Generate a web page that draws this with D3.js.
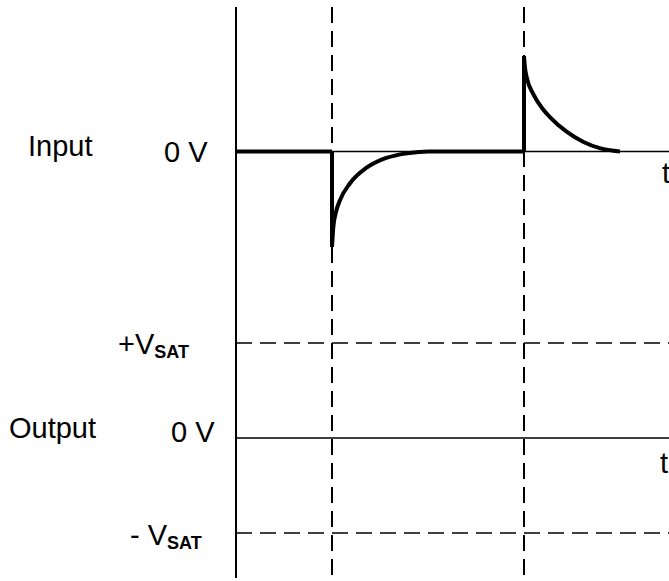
<!DOCTYPE html>
<html>
<head>
<meta charset="utf-8">
<script src="https://cdn.jsdelivr.net/npm/d3@7"></script>
<style>
  html, body { margin: 0; padding: 0; background: #fff; }
  svg { display: block; }
  text { font-family: "Liberation Sans", Arial, sans-serif; fill: #000; }
</style>
</head>
<body>
<svg id="chart" width="669" height="581"></svg>
<script>
// ---- data (time in edge units, voltage normalised to pulse peak) ----
const edgeTimes = [1, 3];                       // input edges (dashed markers)
const flatSegments = [[0, 1], [2, 3]];          // input at 0 V (thick)
const negEdge = [[1, 0], [1, -1]];              // falling step
const negDecay = [[1, -1], [1.014, -0.79], [1.04, -0.64], [1.083, -0.51], [1.19, -0.33], [1.36, -0.17], [1.53, -0.08], [1.71, -0.03], [2, 0]];
const posEdge = [[3, 0], [3, 1]];               // rising step
const posDecay = [[3, 1], [3.01, 0.88], [3.03, 0.77], [3.097, 0.60], [3.2, 0.44], [3.27, 0.36], [3.44, 0.21], [3.62, 0.10], [3.79, 0.035], [4, 0]];
const outputLevels = [1, -1];                   // ±VSAT dashed levels
const inputLabels = ["Input", "0 V"];
const outputLabels = ["Output", "0 V", "+V", "- V", "SAT"];
const axisLabel = "t";

const svg = d3.select("#chart");

const x = d3.scaleLinear().domain([0, 4.5]).range([236, 668]);
const yIn = d3.scaleLinear().domain([-1, 1]).range([247, 56]);
const yOut = d3.scaleLinear().domain([-1, 1]).range([533, 343]);

const dash = "16,8";

// main vertical axis
svg.append("line").attr("x1", x(0)).attr("x2", x(0)).attr("y1", 7).attr("y2", 578)
  .attr("stroke", "#000").attr("stroke-width", 2);

// dashed vertical markers
svg.selectAll(".vmark").data(edgeTimes).join("line")
  .attr("x1", d => x(d)).attr("x2", d => x(d)).attr("y1", 7).attr("y2", 578)
  .attr("stroke", "#000").attr("stroke-width", 2).attr("stroke-dasharray", dash);

// ±VSAT dashed horizontals
svg.selectAll(".hmark").data(outputLevels).join("line")
  .attr("x1", x(0)).attr("x2", 669).attr("y1", d => yOut(d)).attr("y2", d => yOut(d))
  .attr("stroke", "#000").attr("stroke-width", 1.6).attr("stroke-dasharray", dash);

// zero lines (time axes)
svg.append("line").attr("x1", x(0)).attr("x2", 669).attr("y1", yIn(0)).attr("y2", yIn(0))
  .attr("stroke", "#000").attr("stroke-width", 1.6);
svg.append("line").attr("x1", x(0)).attr("x2", 669).attr("y1", yOut(0)).attr("y2", yOut(0))
  .attr("stroke", "#000").attr("stroke-width", 1.6);

// input waveform
const lin = d3.line().x(d => x(d[0])).y(d => yIn(d[1]));
const smooth = d3.line().x(d => x(d[0])).y(d => yIn(d[1])).curve(d3.curveMonotoneX);
const g = svg.append("g").attr("fill", "none").attr("stroke", "#000").attr("stroke-width", 4)
  .attr("stroke-linejoin", "round");
flatSegments.forEach(s => g.append("path").attr("d", lin([[s[0], 0], [s[1], 0]])));
g.append("path").attr("d", lin(negEdge));
g.append("path").attr("d", lin(posEdge));
g.append("path").attr("d", smooth(negDecay));
g.append("path").attr("d", smooth(posDecay));

// labels
const fs = 29;
svg.append("text").attr("x", 28).attr("y", yIn(0) + 4).attr("font-size", fs).text(inputLabels[0]);
svg.append("text").attr("x", 164).attr("y", yIn(0) + 10).attr("font-size", fs).text(inputLabels[1]);
svg.append("text").attr("x", 9).attr("y", yOut(0)).attr("font-size", fs).text(outputLabels[0]);
svg.append("text").attr("x", 171).attr("y", yOut(0) + 4).attr("font-size", fs).text(outputLabels[1]);

function satLabel(xp, yp, main) {
  const t = svg.append("text").attr("x", xp).attr("y", yp).attr("font-size", fs);
  t.append("tspan").text(main);
  t.append("tspan").attr("dy", 4).attr("font-size", 18).attr("font-weight", "bold").text(outputLabels[4]);
}
satLabel(118, yOut(1) + 11, outputLabels[2]);
satLabel(130, yOut(-1) + 12, outputLabels[3]);

svg.append("text").attr("x", 662).attr("y", yIn(0) + 31).attr("font-size", fs).text(axisLabel);
svg.append("text").attr("x", 660).attr("y", yOut(0) + 35).attr("font-size", fs).text(axisLabel);
</script>
</body>
</html>
